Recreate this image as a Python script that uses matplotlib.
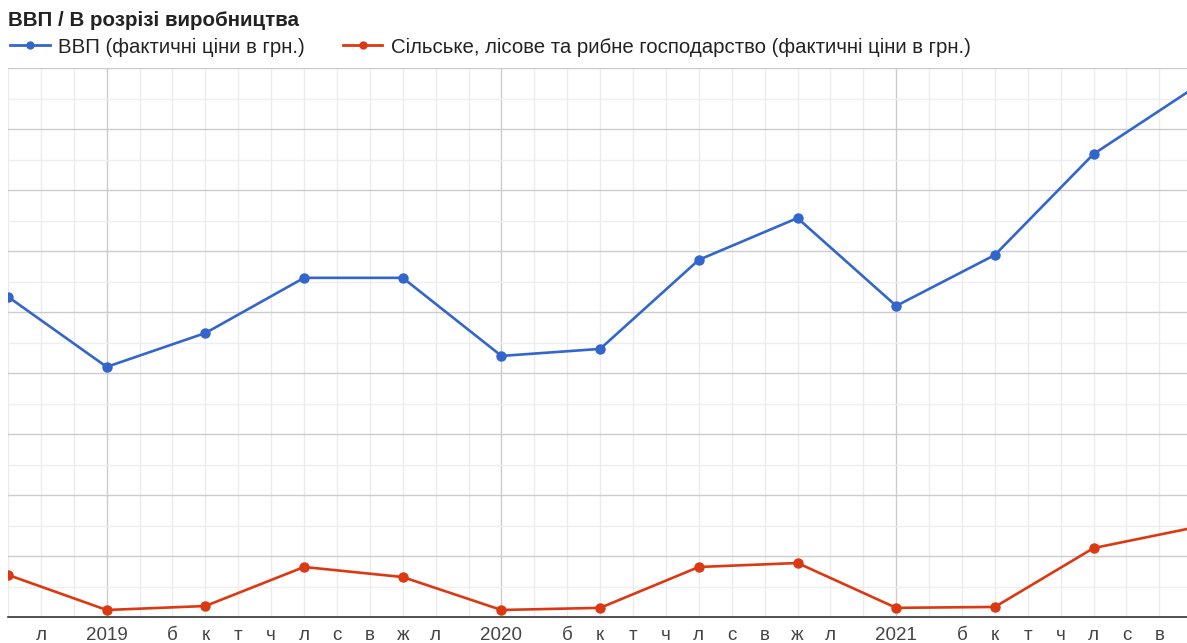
import matplotlib
matplotlib.use("Agg")
import matplotlib.pyplot as plt
from matplotlib.lines import Line2D

plt.rcParams['font.family'] = ['Liberation Sans', 'DejaVu Sans']

# Quarterly data, month index 0 = Oct 2018 (values, UAH bn)
month_idx = [0, 3, 6, 9, 12, 15, 18, 21, 24, 27, 30, 33, 36]
gdp = [1050, 820, 931, 1112, 1112, 856, 879, 1171, 1308, 1020, 1187, 1518, 1731]
agri = [138, 23, 36, 164, 131, 23, 30, 164, 177, 30, 33, 226, 292]

series_names = ["ВВП (фактичні ціни в грн.)",
                "Сільське, лісове та рибне господарство (фактичні ціни в грн.)"]
title = "ВВП / В розрізі виробництва"

# x tick labels (month index -> label)
tick_pos = [1, 3, 5, 6, 7, 8, 9, 10, 11, 12, 13, 15, 17, 18, 19, 20, 21, 22, 23,
            24, 25, 27, 29, 30, 31, 32, 33, 34, 35]
tick_labels = ["л", "2019", "б", "к", "т", "ч", "л", "с", "в", "ж", "л", "2020",
               "б", "к", "т", "ч", "л", "с", "в", "ж", "л", "2021",
               "б", "к", "т", "ч", "л", "с", "в"]
year_pos = [3, 15, 27]

blue = "#3366cc"
red = "#dc3912"

W, H = 1187, 643
fig = plt.figure(figsize=(W / 100, H / 100), dpi=100)
ax = fig.add_axes([8 / W, 1 - 617 / H, 1 - 8 / W, (617 - 68) / H])

ax.set_xlim(0, 35.84)
ax.set_ylim(0, 1800)

# gridlines
for m in range(0, 37):
    c = "#cccccc" if m in year_pos else "#ebebeb"
    ax.axvline(m, color=c, lw=1, zorder=0)
for v in range(100, 1800, 200):
    ax.axhline(v, color="#eeeeee", lw=1, zorder=0)
for v in range(200, 1801, 200):
    ax.axhline(v, color="#cccccc", lw=1, zorder=0)
ax.axhline(0, color="#333333", lw=1.2, zorder=1, clip_on=False)

ax.plot(month_idx, gdp, color=blue, lw=1.9, marker="o", ms=6.5, zorder=3)
ax.plot(month_idx, agri, color=red, lw=1.9, marker="o", ms=6.5, zorder=3)

for s in ax.spines.values():
    s.set_visible(False)
ax.set_yticks([])
ax.set_xticks(tick_pos)
ax.set_xticklabels(tick_labels, fontsize=13.5, color="#444444")
ax.tick_params(axis="x", length=0, pad=7.5)

fig.text(8 / W, 1 - 20 / H, title, fontsize=14.8, fontweight="bold",
         color="#222222", va="center", ha="left")

handles = [Line2D([], [], color=blue, lw=2, marker="o", ms=5),
           Line2D([], [], color=red, lw=2, marker="o", ms=5)]
fig.legend(handles, series_names, loc="center left",
           bbox_to_anchor=(4 / W, 1 - 47 / H), ncol=2, frameon=False,
           fontsize=14.7, handlelength=1.95, handletextpad=0.4, columnspacing=1.85,
           labelcolor="#222222", borderaxespad=0, borderpad=0.3)

fig.savefig("out.png", dpi=100)
